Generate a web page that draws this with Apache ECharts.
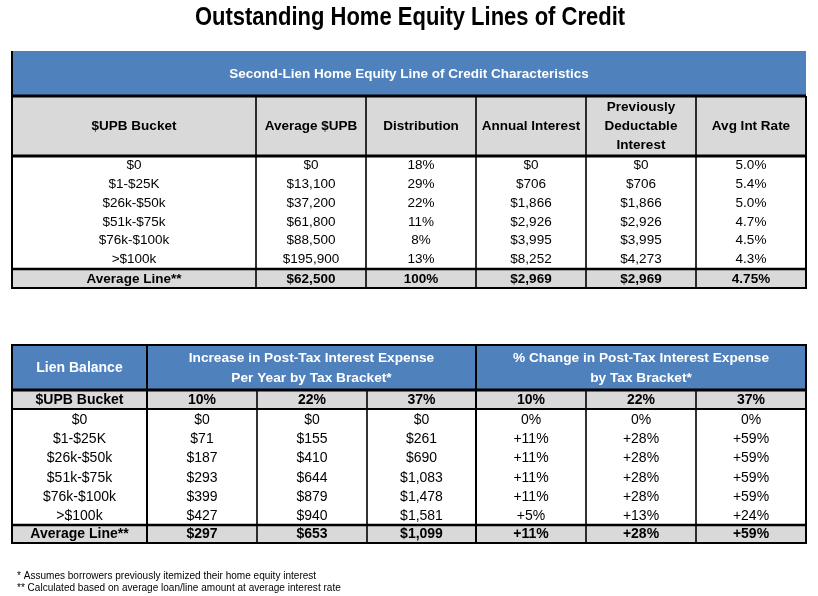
<!DOCTYPE html>
<html>
<head>
<meta charset="utf-8">
<script src="https://cdn.jsdelivr.net/npm/echarts@6/dist/echarts.min.js"></script>
<style>html,body{margin:0;padding:0;background:#fff;}#main{width:818px;height:596px;}</style>
</head>
<body>
<div id="main"></div>
<script>
// ---------- Data ----------
const chartTitle = 'Outstanding Home Equity Lines of Credit';
const table1Title = 'Second-Lien Home Equity Line of Credit Characteristics';
const table1Headers = ['$UPB Bucket', 'Average $UPB', 'Distribution', 'Annual Interest', 'Previously\nDeductable\nInterest', 'Avg Int Rate'];
const buckets = ['$0', '$1-$25K', '$26k-$50k', '$51k-$75k', '$76k-$100k', '>$100k'];
const avgUPB = [0, 13100, 37200, 61800, 88500, 195900];
const distribution = [18, 29, 22, 11, 8, 13];
const annualInterest = [0, 706, 1866, 2926, 3995, 8252];
const prevDeductible = [0, 706, 1866, 2926, 3995, 4273];
const avgIntRate = [5.0, 5.4, 5.0, 4.7, 4.5, 4.3];
const averageLabel = 'Average Line**';
const avgLine1 = { upb: 62500, dist: 100, interest: 2969, deductible: 2969, rate: 4.75 };

const table2Lead = 'Lien Balance';
const table2Group1 = 'Increase in Post-Tax Interest Expense\nPer Year by Tax Bracket*';
const table2Group2 = '% Change in Post-Tax Interest Expense\nby Tax Bracket*';
const table2SubHeaders = ['$UPB Bucket', '10%', '22%', '37%', '10%', '22%', '37%'];
const increase10 = [0, 71, 187, 293, 399, 427];
const increase22 = [0, 155, 410, 644, 879, 940];
const increase37 = [0, 261, 690, 1083, 1478, 1581];
const change10 = [0, 11, 11, 11, 11, 5];
const change22 = [0, 28, 28, 28, 28, 13];
const change37 = [0, 59, 59, 59, 59, 24];
const avgIncrease = [297, 653, 1099];
const avgChange = [11, 28, 59];

const footnotes = ['* Assumes borrowers previously itemized their home equity interest',
                   '** Calculated based on average loan/line amount at average interest rate'];

// ---------- Formatting ----------
const fmtDollar = v => '$' + v.toLocaleString('en-US');
const fmtPct = v => v + '%';
const fmtChange = v => (v === 0 ? '0%' : '+' + v + '%');
const fmtRate = v => (Number.isInteger(v * 10) ? v.toFixed(1) : v.toFixed(2)) + '%';

// ---------- Layout ----------
const BLUE = '#4f81bd', GRAY = '#d9d9d9';
const SANS = "'Liberation Sans', Arial, Helvetica, sans-serif";
const shapes = [];
const rect = (x0, y0, x1, y1, fill) => shapes.push({ k: 'rect', x0, y0, x1, y1, fill });
const line = (x0, y0, x1, y1, w) => shapes.push({ k: 'line', x0, y0, x1, y1, w });
const text = (x, y, t, o) => shapes.push(Object.assign({ k: 'text', x0: x, y0: y, x1: x, y1: y, t }, o));

// Table 1
const c1 = [12, 256, 366, 476, 586, 696, 806];
const r1 = { top: 51, blue: 96, head: 156, data: 269, bottom: 288 };
rect(c1[0], r1.top, c1[6], r1.blue, BLUE);
rect(c1[0], r1.blue, c1[6], r1.head, GRAY);
rect(c1[0], r1.head, c1[6], r1.data, '#ffffff');
rect(c1[0], r1.data, c1[6], r1.bottom, GRAY);
text((c1[0] + c1[6]) / 2, 74, table1Title, { size: 13.5, bold: true, fill: '#ffffff' });
table1Headers.forEach((h, j) => text((c1[j] + c1[j + 1]) / 2, 126, h, { size: 13.5, bold: true, lh: 19 }));
const t1Cols = [buckets, avgUPB.map(fmtDollar), distribution.map(fmtPct), annualInterest.map(fmtDollar), prevDeductible.map(fmtDollar), avgIntRate.map(fmtRate)];
const rh1 = (r1.data - r1.head) / buckets.length;
t1Cols.forEach((col, j) => col.forEach((v, i) => text((c1[j] + c1[j + 1]) / 2, r1.head + rh1 * (i + 0.5), v, { size: 13.5 })));
const avg1 = [averageLabel, fmtDollar(avgLine1.upb), fmtPct(avgLine1.dist), fmtDollar(avgLine1.interest), fmtDollar(avgLine1.deductible), fmtRate(avgLine1.rate)];
avg1.forEach((v, j) => text((c1[j] + c1[j + 1]) / 2, (r1.data + r1.bottom) / 2 + 0.5, v, { size: 13.5, bold: true }));
line(c1[0], r1.blue, c1[6], r1.blue, 3);
line(c1[0], r1.head, c1[6], r1.head, 3);
line(c1[0], r1.data, c1[6], r1.data, 2.5);
line(c1[0], r1.bottom, c1[6], r1.bottom, 2);
line(c1[0], r1.top, c1[0], r1.bottom + 1, 2);
line(c1[6], r1.blue, c1[6], r1.bottom + 1, 2);
for (let j = 1; j < 6; j++) line(c1[j], r1.blue, c1[j], r1.bottom, 1.6);

// Table 2
const c2 = [12, 147, 257, 367, 476, 586, 696, 806];
const r2 = { top: 345, blue: 390, sub: 409, data: 525, bottom: 543 };
rect(c2[0], r2.top, c2[7], r2.blue, BLUE);
rect(c2[0], r2.blue, c2[7], r2.sub, GRAY);
rect(c2[0], r2.sub, c2[7], r2.data, '#ffffff');
rect(c2[0], r2.data, c2[7], r2.bottom, GRAY);
text((c2[0] + c2[1]) / 2, 368, table2Lead, { size: 14, bold: true, fill: '#ffffff' });
text((c2[1] + c2[4]) / 2, 368, table2Group1, { size: 13.7, bold: true, fill: '#ffffff', lh: 20 });
text((c2[4] + c2[7]) / 2, 368, table2Group2, { size: 13.7, bold: true, fill: '#ffffff', lh: 20 });
table2SubHeaders.forEach((h, j) => text((c2[j] + c2[j + 1]) / 2, (r2.blue + r2.sub) / 2 + 1, h, { size: 14, bold: true }));
const t2Cols = [buckets, increase10.map(fmtDollar), increase22.map(fmtDollar), increase37.map(fmtDollar), change10.map(fmtChange), change22.map(fmtChange), change37.map(fmtChange)];
const rh2 = (r2.data - r2.sub) / buckets.length;
t2Cols.forEach((col, j) => col.forEach((v, i) => text((c2[j] + c2[j + 1]) / 2, r2.sub + rh2 * (i + 0.5) + 1, v, { size: 14 })));
const avg2 = [averageLabel].concat(avgIncrease.map(fmtDollar), avgChange.map(fmtChange));
avg2.forEach((v, j) => text((c2[j] + c2[j + 1]) / 2, (r2.data + r2.bottom) / 2 + 0.5, v, { size: 14, bold: true }));
line(c2[0], r2.top, c2[7], r2.top, 2);
line(c2[0], r2.blue, c2[7], r2.blue, 3);
line(c2[0], r2.sub, c2[7], r2.sub, 2);
line(c2[0], r2.data, c2[7], r2.data, 2.5);
line(c2[0], r2.bottom, c2[7], r2.bottom, 2);
line(c2[0], r2.top - 1, c2[0], r2.bottom + 1, 2);
line(c2[7], r2.top - 1, c2[7], r2.bottom + 1, 2);
[1, 4].forEach(j => line(c2[j], r2.top, c2[j], r2.bottom, 2));
[2, 3, 5, 6].forEach(j => line(c2[j], r2.blue, c2[j], r2.bottom, 1.6));

// Title and footnotes (condensed face emulated with horizontal scaling)
text(410, 18, chartTitle, { size: 25, bold: true, sx: 0.88 });
footnotes.forEach((f, i) => text(17, 576 + i * 12, f, { size: 10.8, sx: 0.93, align: 'left' }));

// ---------- Chart ----------
const chart = echarts.init(document.getElementById('main'), null, { renderer: 'canvas' });
chart.setOption({
  animation: false,
  grid: { left: 0, right: 0, top: 0, bottom: 0 },
  xAxis: { type: 'value', min: 0, max: 818, show: false },
  yAxis: { type: 'value', min: 0, max: 596, inverse: true, show: false },
  series: [{
    type: 'custom',
    clip: false,
    silent: true,
    encode: { x: [0, 2], y: [1, 3] },
    data: shapes.map((s, i) => [s.x0, s.y0, s.x1, s.y1, i]),
    renderItem: function (params, api) {
      const s = shapes[api.value(4)];
      const p0 = api.coord([api.value(0), api.value(1)]);
      const p1 = api.coord([api.value(2), api.value(3)]);
      if (s.k === 'rect') {
        return { type: 'rect', shape: { x: p0[0], y: p0[1], width: p1[0] - p0[0], height: p1[1] - p0[1] }, style: { fill: s.fill } };
      }
      if (s.k === 'line') {
        return { type: 'line', shape: { x1: p0[0], y1: p0[1], x2: p1[0], y2: p1[1] }, style: { stroke: '#000', lineWidth: s.w } };
      }
      return {
        type: 'text', z2: 10,
        x: p0[0], y: p0[1], scaleX: s.sx || 1, scaleY: 1,
        style: {
          x: 0, y: 0, text: s.t,
          fontSize: s.size, fontWeight: s.bold ? 'bold' : 'normal', fontFamily: SANS,
          fill: s.fill || '#000', align: s.align || 'center', verticalAlign: 'middle',
          lineHeight: s.lh || Math.round(s.size * 1.2)
        }
      };
    }
  }]
});
</script>
</body>
</html>
